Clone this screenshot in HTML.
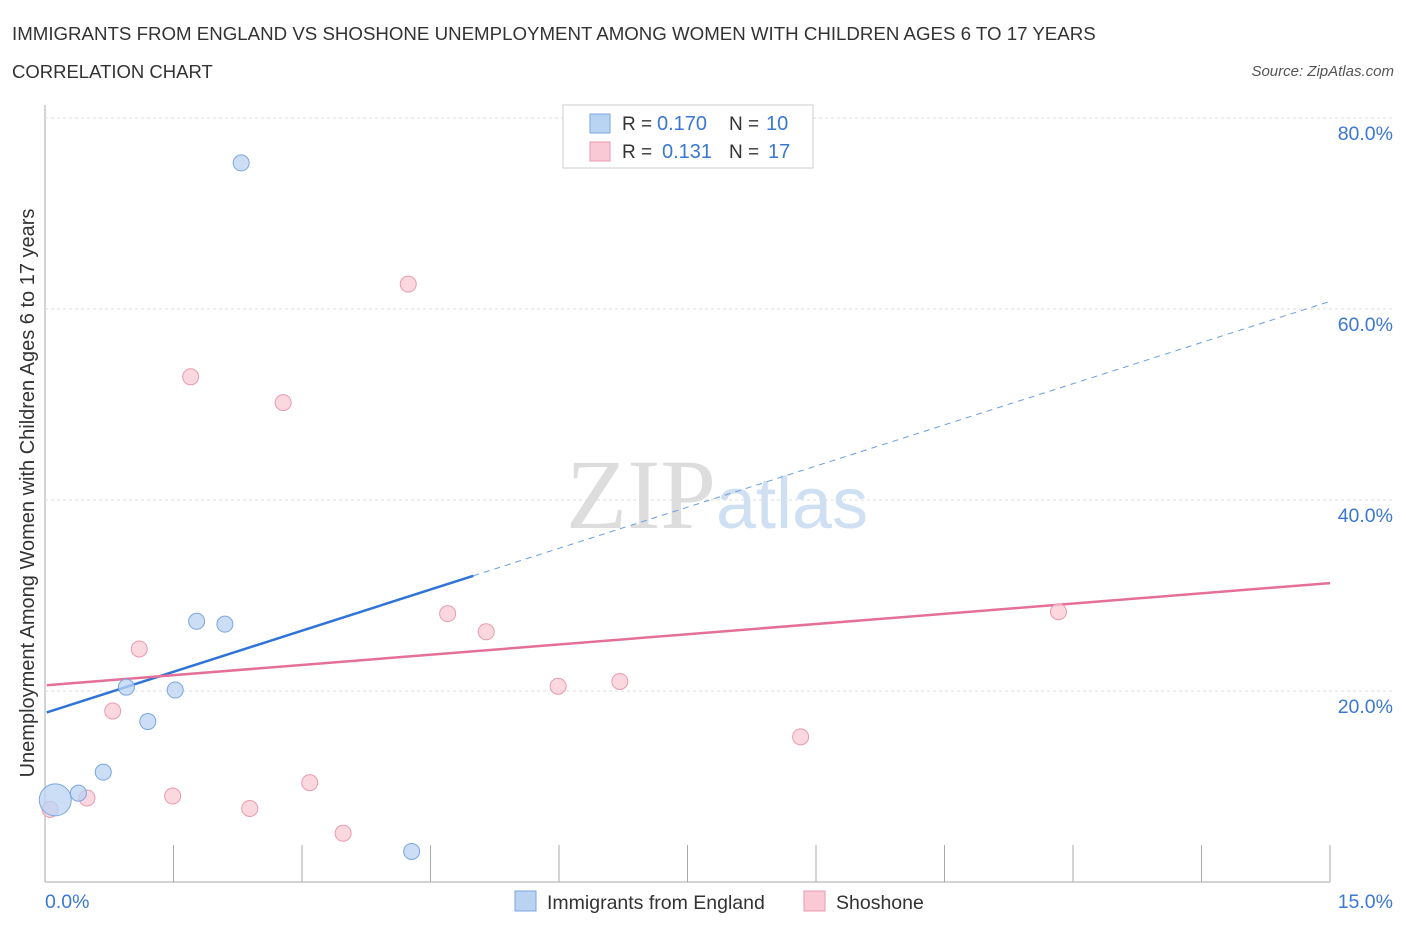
<!DOCTYPE html>
<html><head><meta charset="utf-8"><style>
body{margin:0;background:#fff;font-family:"Liberation Sans",sans-serif;}
svg{display:block}
</style></head><body>
<svg id="chart" width="1406" height="930" xmlns="http://www.w3.org/2000/svg">
<text x="12" y="40" font-size="18.7" fill="#333">IMMIGRANTS FROM ENGLAND VS SHOSHONE UNEMPLOYMENT AMONG WOMEN WITH CHILDREN AGES 6 TO 17 YEARS</text>
<text x="12" y="78" font-size="18.5" fill="#333">CORRELATION CHART</text>
<text x="1394" y="76" font-size="15" fill="#555" font-style="italic" text-anchor="end">Source: ZipAtlas.com</text>
<text x="716" y="528" font-size="100" fill="#ddd" text-anchor="end" font-family="Liberation Serif,serif">ZIP</text>
<text x="716" y="528" font-size="72" fill="#cfe0f3">atlas</text>
<text transform="translate(34,493) rotate(-90)" font-size="20" fill="#333" text-anchor="middle">Unemployment Among Women with Children Ages 6 to 17 years</text>
<g id="grid"></g><g id="lines"></g><g id="pts"></g>
<g>
<rect x="563" y="105" width="250" height="63" fill="#fff" stroke="#ccc"/>
<rect x="590" y="114" width="20" height="19" fill="#b9d3f3" stroke="#7aa6dd"/>
<text x="622" y="130" font-size="19" fill="#333">R =</text>
<text x="657" y="130" font-size="20" fill="#3a78d4">0.170</text>
<text x="729" y="130" font-size="19" fill="#333">N =</text>
<text x="766" y="130" font-size="20" fill="#3a78d4">10</text>
<rect x="590" y="142" width="20" height="19" fill="#f9c9d6" stroke="#e99ab0"/>
<text x="622" y="158" font-size="19" fill="#333">R =</text>
<text x="662" y="158" font-size="20" fill="#3a78d4">0.131</text>
<text x="729" y="158" font-size="19" fill="#333">N =</text>
<text x="768" y="158" font-size="20" fill="#3a78d4">17</text>
</g>
<g>
<rect x="515" y="891" width="21" height="20" fill="#b9d3f3" stroke="#7aa6dd"/>
<text x="547" y="909" font-size="19.5" fill="#333">Immigrants from England</text>
<rect x="804" y="891" width="21" height="20" fill="#f9c9d6" stroke="#e99ab0"/>
<text x="836" y="909" font-size="19.5" fill="#333">Shoshone</text>
</g>
</svg>
<script>
const yTicks=[20,40,60,80];
const xTickLabels=["0.0%","15.0%"];
const blueX=[2.29,0.12,0.39,0.68,0.95,1.2,1.52,1.77,2.1,4.28];
const blueY=[75.3,8.6,9.3,11.5,20.4,16.8,20.1,27.3,27.0,3.2];
const pinkX=[0.06,0.49,1.1,0.79,1.49,1.70,2.39,2.78,3.09,3.48,4.24,4.7,5.15,5.99,6.71,8.82,11.83];
const pinkY=[7.6,8.8,24.4,17.9,9.0,52.9,7.7,50.2,10.4,5.1,62.6,28.1,26.2,20.5,21.0,15.2,28.3];
const blueTrend=[17.7,60.8];
const pinkTrend=[20.6,31.3];
const NS="http://www.w3.org/2000/svg";
const X=v=>45+v*85.67, Y=v=>882-v*9.55;
function mk(tag,at,parent){const e=document.createElementNS(NS,tag);for(const k in at)e.setAttribute(k,at[k]);document.getElementById(parent).appendChild(e);return e;}
const g='grid';
let e=mk('line',{x1:45,y1:105,x2:45,y2:882,stroke:'#aaa'},g);


e=mk('line',{x1:45,y1:882,x2:1330,y2:882,stroke:'#aaa'},g);


for(let i=1;i<=10;i++){e=mk('line',{x1:45+i*128.5,y1:845,x2:45+i*128.5,y2:882,stroke:'#aaa'},g);

}
yTicks.forEach(t=>{e=mk('line',{x1:45,y1:Y(t),x2:1395,y2:Y(t),stroke:'#ddd','stroke-dasharray':'3,3'},g);


e=mk('text',{x:1393,y:Y(t)+22,'font-size':19.5,fill:'#3a78d4','text-anchor':'end'},g);e.textContent=t.toFixed(1)+'%';

});
e=mk('text',{x:45,y:908,'font-size':19.5,fill:'#3a78d4'},g);e.textContent=xTickLabels[0];


e=mk('text',{x:1393,y:908,'font-size':19.5,fill:'#3a78d4','text-anchor':'end'},g);e.textContent=xTickLabels[1];


const bAt=x=>blueTrend[0]+(blueTrend[1]-blueTrend[0])*x/15;
e=mk('line',{x1:X(0.02),y1:Y(bAt(0.02)),x2:X(5),y2:Y(bAt(5)),stroke:'#2f74d6','stroke-width':2.5},'lines');


e=mk('line',{x1:X(5),y1:Y(bAt(5)),x2:X(15),y2:Y(bAt(15)),stroke:'#6a9ee0','stroke-width':1,'stroke-dasharray':'6,5'},'lines');


e=mk('line',{x1:X(0.02),y1:Y(pinkTrend[0]),x2:X(15),y2:Y(pinkTrend[1]),stroke:'#e4709a','stroke-width':2.5},'lines');


pinkX.forEach((x,i)=>{e=mk('circle',{cx:X(x),cy:Y(pinkY[i]),r:8,fill:'#f9c9d6','fill-opacity':0.75,stroke:'#e99ab0'},'pts');

});
blueX.forEach((x,i)=>{e=mk('circle',{cx:X(x),cy:Y(blueY[i]),r:i==1?16:8,fill:'#b9d3f3','fill-opacity':0.75,stroke:'#7aa6dd'},'pts');

});
</script>
</body></html>
